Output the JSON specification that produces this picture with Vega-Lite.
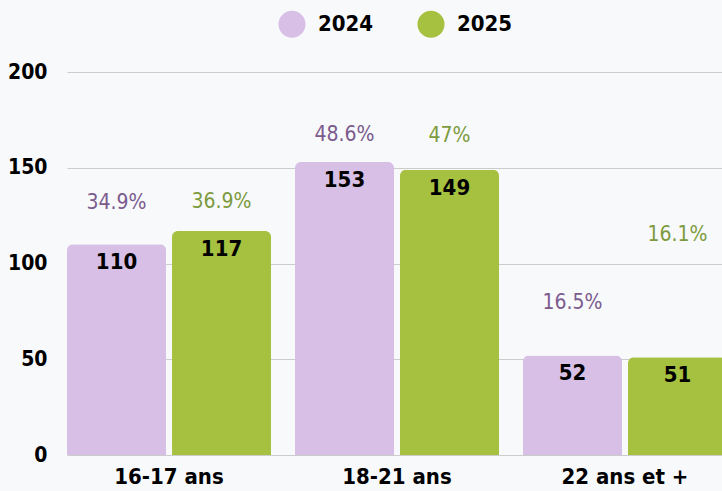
{
  "$schema": "https://vega.github.io/schema/vega-lite/v6.json",
  "width": 660,
  "height": 383,
  "autosize": {"type": "none"},
  "padding": {"left": 67, "top": 72, "right": 0, "bottom": 36},
  "background": "#f8f9fb",
  "config": {"view": {"stroke": null}, "font": "'DejaVu Sans Condensed', Roboto, sans-serif"},
  "data": {
    "values": [
      {"age": "16-17 ans", "year": "2024", "count": 110, "pct": "34.9%"},
      {"age": "16-17 ans", "year": "2025", "count": 117, "pct": "36.9%"},
      {"age": "18-21 ans", "year": "2024", "count": 153, "pct": "48.6%"},
      {"age": "18-21 ans", "year": "2025", "count": 149, "pct": "47%"},
      {"age": "22 ans et +", "year": "2024", "count": 52, "pct": "16.5%"},
      {"age": "22 ans et +", "year": "2025", "count": 51, "pct": "16.1%"}
    ]
  },
  "encoding": {
    "x": {
      "field": "age",
      "type": "nominal",
      "sort": null,
      "scale": {"paddingInner": 0.105, "paddingOuter": 0},
      "axis": {
        "title": null,
        "labelAngle": 0,
        "labelFontSize": 22,
        "labelFontWeight": "bold",
        "labelColor": "#000000",
        "ticks": false,
        "domain": false,
        "labelPadding": 11
      }
    },
    "xOffset": {"field": "year", "type": "nominal", "scale": {"paddingInner": 0.057, "paddingOuter": 0}},
    "y": {
      "field": "count",
      "type": "quantitative",
      "scale": {"domain": [0, 200]},
      "axis": {
        "title": null,
        "values": [0, 50, 100, 150, 200],
        "labelFontSize": 21,
        "labelFontWeight": "bold",
        "labelColor": "#000000",
        "ticks": false,
        "domain": false,
        "labelPadding": 20,
        "gridColor": "#cccccc"
      }
    }
  },
  "layer": [
    {
      "mark": {"type": "bar", "cornerRadiusTopLeft": 6, "cornerRadiusTopRight": 6},
      "encoding": {
        "color": {
          "field": "year",
          "type": "nominal",
          "scale": {"range": ["#d7bfe6", "#a6c13f"]},
          "legend": {
            "title": null,
            "orient": "none",
            "legendX": 211,
            "legendY": -62,
            "direction": "horizontal",
            "symbolType": "circle",
            "symbolSize": 730,
            "symbolStrokeWidth": 0,
            "labelFontSize": 22,
            "labelFontWeight": "bold",
            "labelColor": "#000000",
            "labelOffset": 12,
            "columnPadding": 43
          }
        }
      }
    },
    {
      "mark": {"type": "text", "baseline": "middle", "dy": 18, "fontSize": 22, "fontWeight": "bold", "color": "#000000"},
      "encoding": {"text": {"field": "count", "type": "quantitative"}}
    },
    {
      "mark": {
        "type": "text",
        "baseline": "middle",
        "fontSize": 21,
        "dy": {"expr": "datum.age === '16-17 ans' ? (datum.year === '2024' ? -41 : -29) : datum.age === '18-21 ans' ? (datum.year === '2024' ? -27 : -34) : (datum.year === '2024' ? -52 : -122)"}
      },
      "encoding": {
        "text": {"field": "pct", "type": "nominal"},
        "color": {"condition": {"test": "datum.year === '2024'", "value": "#7b5b8e"}, "value": "#7d9b3e"}
      }
    }
  ]
}
